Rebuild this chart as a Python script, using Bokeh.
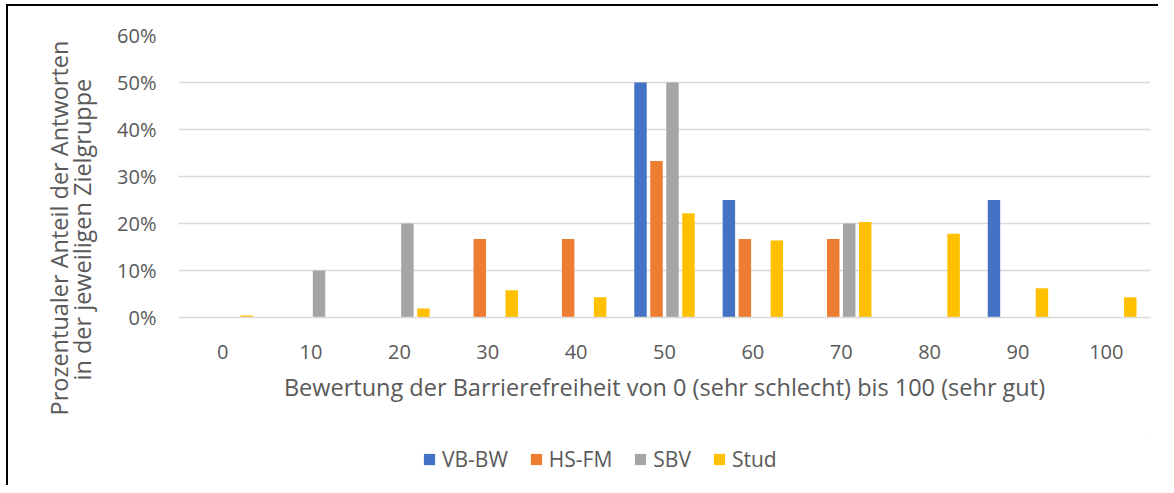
from bokeh.plotting import figure
from bokeh.models import (ColumnDataSource, FactorRange, Range1d, FixedTicker,
                          PrintfTickFormatter, Legend, LegendItem, Title)
from bokeh.layouts import column
from bokeh.transform import dodge
from bokeh.embed import file_html
from bokeh.resources import INLINE

categories = ["0", "10", "20", "30", "40", "50", "60", "70", "80", "90", "100"]
vb_bw = [0, 0, 0, 0, 0, 50, 25, 0, 0, 25, 0]
hs_fm = [0, 0, 0, 16.7, 16.7, 33.3, 16.7, 16.7, 0, 0, 0]
sbv = [0, 10, 20, 0, 0, 50, 0, 20, 0, 0, 0]
stud = [0.4, 0, 1.9, 5.8, 4.3, 22.2, 16.4, 20.3, 17.8, 6.2, 4.3]
series_names = ["VB-BW", "HS-FM", "SBV", "Stud"]
colors = ["#4472C4", "#ED7D31", "#A5A5A5", "#FFC000"]

x_label = "Bewertung der Barrierefreiheit von 0 (sehr schlecht) bis 100 (sehr gut)"
y_label_1 = "Prozentualer Anteil der Antworten"
y_label_2 = "in der jeweiligen Zielgruppe"

FONT = "Open Sans"
TXT = "#595959"
FS_TICK = "20px"
FS_TITLE = "23.5px"
FS_LEG = "21px"

source = ColumnDataSource(dict(cat=categories, a=vb_bw, b=hs_fm, c=sbv, d=stud))

p = figure(x_range=FactorRange(factors=categories, range_padding=0),
           y_range=Range1d(0, 60),
           frame_width=972, frame_height=282,
           min_border_left=170, min_border_right=8,
           min_border_top=29, min_border_bottom=120,
           output_backend="svg", toolbar_location=None)
p.outline_line_color = None

offsets = [-0.2715, -0.0905, 0.0905, 0.2715]
for key, off, col in zip(["a", "b", "c", "d"], offsets, colors):
    p.vbar(x=dodge("cat", off, range=p.x_range), top=key, width=0.141,
           source=source, fill_color=col, line_color=None)

# axes
p.yaxis.ticker = FixedTicker(ticks=[0, 10, 20, 30, 40, 50, 60])
p.yaxis.formatter = PrintfTickFormatter(format="%d%%")
p.yaxis.axis_line_color = None
p.yaxis.major_tick_line_color = None
p.yaxis.minor_tick_line_color = None
p.yaxis.major_tick_out = 0
p.yaxis.major_label_standoff = 22
p.yaxis.major_label_text_font = FONT
p.yaxis.major_label_text_font_size = FS_TICK
p.yaxis.major_label_text_color = TXT
# blank spacer label between tick labels and the two-line title
p.yaxis.axis_label = " "
p.yaxis.axis_label_text_font_size = "1px"
p.yaxis.axis_label_standoff = 12

p.xaxis.axis_line_color = "#d9d9d9"
p.xaxis.axis_line_width = 1.5
p.xaxis.major_tick_line_color = None
p.xaxis.minor_tick_line_color = None
p.xaxis.major_tick_out = 0
p.xaxis.major_label_standoff = 27
p.xaxis.major_label_text_font = FONT
p.xaxis.major_label_text_font_size = FS_TICK
p.xaxis.major_label_text_color = TXT
p.xaxis.axis_label = x_label
p.xaxis.axis_label_text_font = FONT
p.xaxis.axis_label_text_font_size = FS_TITLE
p.xaxis.axis_label_text_font_style = "normal"
p.xaxis.axis_label_text_color = TXT
p.xaxis.axis_label_standoff = 9

p.xgrid.grid_line_color = None
p.ygrid.grid_line_color = "#d9d9d9"
p.ygrid.grid_line_width = 1.5

# y axis title (two lines, as titles in the left panel)
for txt, off, so in [(y_label_2, -63, 0), (y_label_1, -98, -22)]:
    p.add_layout(Title(text=txt, align="left", offset=off, standoff=so,
                       text_font=FONT, text_font_size=FS_TITLE,
                       text_font_style="normal", text_color=TXT), "left")

# legend strip below the chart (its frame is aligned with the chart frame)
p2 = figure(width=1150, height=48, x_range=Range1d(0, 1), y_range=Range1d(0, 1),
            x_axis_location=None, y_axis_location=None,
            min_border_left=0, min_border_right=0, min_border_top=0, min_border_bottom=0,
            output_backend="svg", toolbar_location=None)
p2.outline_line_color = None
p2.grid.visible = False
leg_renderers = []
for col in colors:
    # swatch-only renderers: their single bar lies outside the visible range
    leg_renderers.append(p2.vbar(x=[5], top=[5], bottom=[4], width=0.1,
                                 fill_color=col, line_color=None))

legend = Legend(items=[LegendItem(label=n, renderers=[r]) for n, r in zip(series_names, leg_renderers)],
                orientation="horizontal", location=(244, 12),
                glyph_width=14, glyph_height=14, label_standoff=6, spacing=21,
                padding=0, margin=0, border_line_color=None, background_fill_alpha=0,
                label_text_font=FONT, label_text_font_size=FS_LEG, label_text_color=TXT,
                label_height=14)
p2.add_layout(legend, "center")

layout = column(p, p2, spacing=0,
                styles={"border-top": "2px solid black", "border-left": "2px solid black",
                        "margin-left": "6px", "margin-top": "4px"})

open("out.html", "w").write(file_html(layout, INLINE))
